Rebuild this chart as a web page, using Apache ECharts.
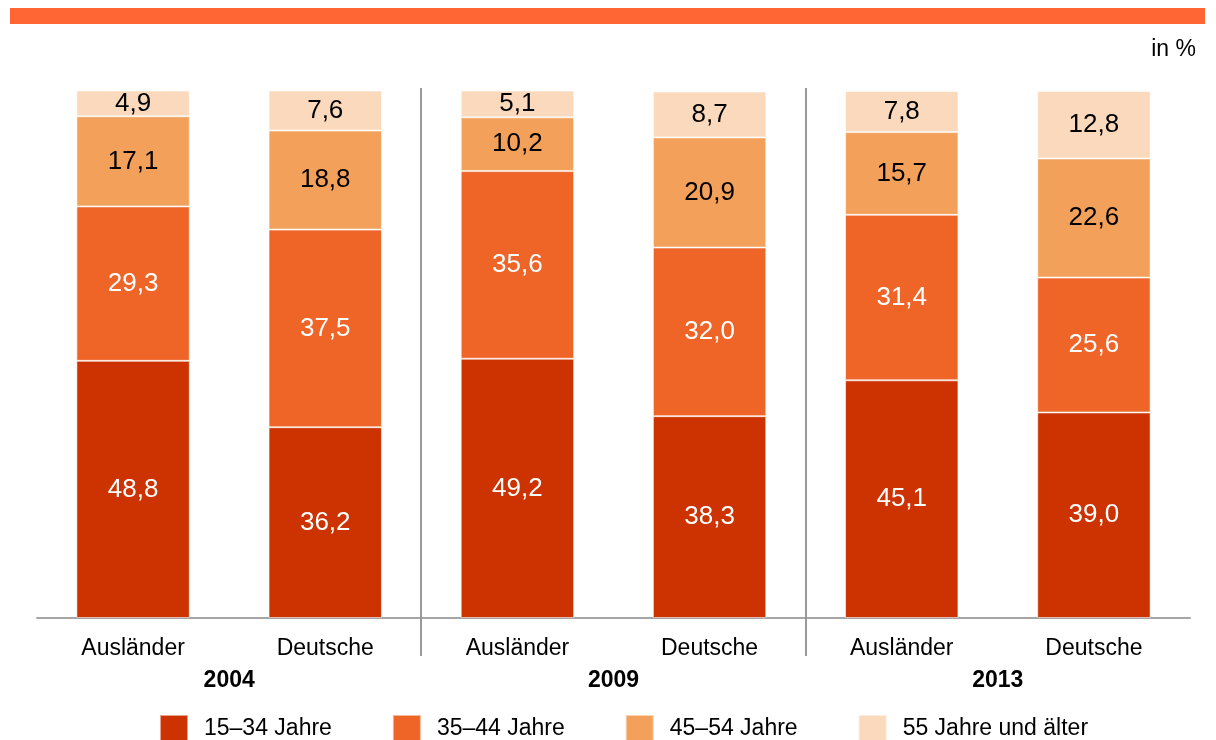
<!DOCTYPE html>
<html>
<head>
<meta charset="utf-8">
<script src="https://cdn.jsdelivr.net/npm/echarts@6/dist/echarts.min.js"></script>
<style>
html,body{margin:0;padding:0;background:#fff;}
#chart{width:1216px;height:740px;}
</style>
</head>
<body>
<div id="chart"></div>
<script>
var groups = ['Ausländer', 'Deutsche', 'Ausländer', 'Deutsche', 'Ausländer', 'Deutsche'];
var years = ['2004', '2009', '2013'];
var seriesNames = ['15–34 Jahre', '35–44 Jahre', '45–54 Jahre', '55 Jahre und älter'];
var age15_34 = [48.8, 36.2, 49.2, 38.3, 45.1, 39.0];
var age35_44 = [29.3, 37.5, 35.6, 32.0, 31.4, 25.6];
var age45_54 = [17.1, 18.8, 10.2, 20.9, 15.7, 22.6];
var age55plus = [4.9, 7.6, 5.1, 8.7, 7.8, 12.8];
var colors = ['#CC3300', '#EF6427', '#F3A15A', '#FAD9BC'];
var labelColors = ['#ffffff', '#ffffff', '#000000', '#000000'];
var unitLabel = 'in %';

var FONT = '"Liberation Sans", Arial, sans-serif';
var dataSets = [age15_34, age35_44, age45_54, age55plus];

var chart = echarts.init(document.getElementById('chart'), null, {renderer: 'canvas'});

function fmt(v) { return v.toFixed(1).replace('.', ','); }

var series = dataSets.map(function (d, i) {
  return {
    name: seriesNames[i],
    type: 'bar',
    stack: 'total',
    barWidth: '59%',
    data: d,
    itemStyle: {color: colors[i], borderColor: 'rgba(255,255,255,0.55)', borderWidth: 1},
    label: {
      show: true,
      position: 'inside',
      color: labelColors[i],
      fontFamily: FONT,
      fontSize: 26,
      formatter: function (p) { return fmt(p.value); }
    },
    emphasis: {disabled: true},
    animation: false
  };
});

var option = {
  animation: false,
  grid: {left: 37, right: 26, top: 91, bottom: 122, containLabel: false},
  legend: {
    data: seriesNames,
    left: 154,
    top: 709,
    itemWidth: 28,
    itemHeight: 28,
    itemGap: 60,
    icon: 'rect',
    textStyle: {fontFamily: FONT, fontSize: 23, color: '#000', padding: [0, 0, 0, 11]},
    selectedMode: false
  },
  xAxis: [
    {
      type: 'category',
      data: groups,
      axisLine: {show: true, lineStyle: {color: '#A6A6A6', width: 2}},
      axisTick: {show: false},
      axisLabel: {fontFamily: FONT, fontSize: 23, color: '#000', margin: 19, interval: 0}
    },
    {
      type: 'category',
      data: years,
      position: 'bottom',
      offset: 32,
      axisLine: {show: false},
      axisTick: {show: false},
      axisLabel: {fontFamily: FONT, fontSize: 23, fontWeight: 'bold', color: '#000', margin: 19}
    }
  ],
  yAxis: {type: 'value', min: 0, max: 100, show: false, splitLine: {show: false}},
  series: series,
  graphic: [
    {type: 'rect', shape: {x: 10, y: 8, width: 1195, height: 16}, style: {fill: '#FF6633'}},
    {type: 'text', right: 20, top: 38, style: {text: unitLabel, font: '23px ' + FONT, fill: '#000'}}
  ]
};

chart.setOption(option);

// separators between year groups, placed through the category axis scale
var seps = [];
for (var k = 1; k < years.length; k++) {
  var xa = chart.convertToPixel({xAxisIndex: 0}, 2 * k - 1);
  var xb = chart.convertToPixel({xAxisIndex: 0}, 2 * k);
  var x = Math.round((xa + xb) / 2);
  seps.push({type: 'line', shape: {x1: x, y1: 88, x2: x, y2: 656}, style: {stroke: '#999999', lineWidth: 2}, z: 10});
}
chart.setOption({graphic: option.graphic.concat(seps)});
</script>
</body>
</html>
